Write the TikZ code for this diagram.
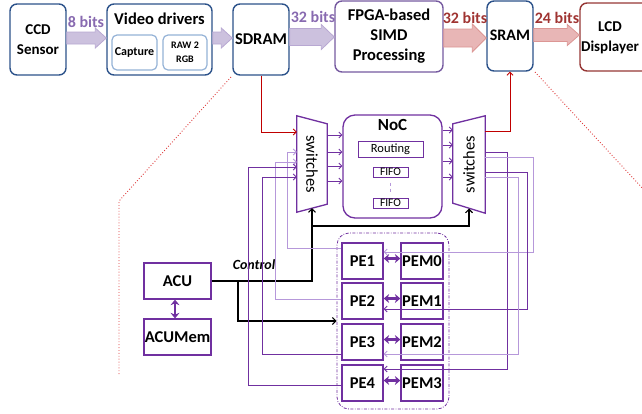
\documentclass[tikz,border=0pt]{standalone}
\usepackage{fontspec}
\setmainfont{Carlito}
\usetikzlibrary{arrows.meta,calc}
\definecolor{boxblue}{RGB}{44,82,138}
\definecolor{lightblue}{RGB}{149,179,215}
\definecolor{fpgapurple}{RGB}{118,90,160}
\definecolor{lcdred}{RGB}{150,55,53}
\definecolor{purpfill}{RGB}{204,193,222}
\definecolor{purpline}{RGB}{184,168,210}
\definecolor{purptext}{RGB}{136,106,176}
\definecolor{redfill}{RGB}{232,182,182}
\definecolor{redline}{RGB}{220,150,148}
\definecolor{redtext}{RGB}{160,52,50}
\definecolor{noc}{RGB}{112,48,160}
\definecolor{lightp}{RGB}{182,152,218}
\definecolor{redc}{RGB}{192,0,0}
\definecolor{reddot}{RGB}{222,60,60}
\newcommand\blockarr[6]{%
  \path[#1] let \p1=#2, \p2=#3 in
    (\x1,\y1+#4) -- (\x2-#6,\y1+#4) -- (\x2-#6,\y1+#5) -- (\x2,\y1)
    -- (\x2-#6,\y1-#5) -- (\x2-#6,\y1-#4) -- (\x1,\y1-#4) -- cycle;}
\tikzset{
  fbig/.style={font=\fontsize{15}{20}\selectfont\bfseries},
  topbox/.style={draw=boxblue, line width=1.4pt, rounded corners=7pt, fill=white, inner sep=0pt, align=center, fbig},
  innerbox/.style={draw=lightblue, line width=1.2pt, rounded corners=5pt, fill=white, inner sep=0pt, align=center},
  purparr/.style={fill=purpfill, draw=purpline, line width=0.8pt},
  redarr/.style={fill=redfill, draw=redline, line width=0.8pt},
  bitlab/.style={font=\fontsize{16}{18}\selectfont\bfseries},
  pbox/.style={draw=noc, line width=1.3pt, fill=white, inner sep=0pt, align=center, font=\fontsize{16.5}{18}\selectfont\bfseries},
  swshape/.style={draw=noc, line width=1.3pt, fill=white},
  wd/.style={draw=noc, line width=0.8pt},
  wl/.style={draw=lightp, line width=0.8pt},
  tip/.style={-{Straight Barb[length=3pt,width=6pt]}},
  ctrl/.style={draw=black, line width=1.1pt, -{Straight Barb[length=3.5pt,width=7pt]}},
  dbl/.style={draw=noc, line width=2.2pt, {Stealth[length=5.5pt,width=9pt]}-{Stealth[length=5.5pt,width=9pt]}},
  redconn/.style={draw=redc, line width=0.8pt},
  reddots/.style={draw=reddot, line width=0.9pt, dotted}
}
\begin{document}
\begin{tikzpicture}[x=1pt,y=-1pt]
\useasboundingbox (0,0) rectangle (642,413);
\clip (0,0) rectangle (642,413);

% ---- top row ----
\node[topbox, minimum width=56, minimum height=71] (ccd) at (38,39.5) {CCD\\Sensor};
\node[topbox, minimum width=105, minimum height=71] (vd) at (159.5,39.5) {};
\node[font=\fontsize{16.5}{18}\selectfont\bfseries] (vdt) at (159.5,18.5) {Video drivers};
\node[innerbox, minimum width=45, minimum height=35, font=\fontsize{12}{13}\selectfont\bfseries] (cap) at (134.5,52.5) {Capture};
\node[innerbox, minimum width=44, minimum height=35, font=\fontsize{10}{14}\selectfont\bfseries] (raw) at (185,52.5) {RAW 2\\RGB};
\node[topbox, minimum width=56, minimum height=71, font=\fontsize{16.5}{18}\selectfont\bfseries] (sdram) at (261,39.5) {SDRAM};
\node[topbox, draw=fpgapurple, minimum width=108, minimum height=71, font=\fontsize{16.5}{20}\selectfont\bfseries] (fpga) at (389,36.5) {FPGA-based\\SIMD\\Processing};
\node[topbox, minimum width=46, minimum height=70, font=\fontsize{16}{18}\selectfont\bfseries] (sram) at (510,36) {\raisebox{2pt}{SRAM}};
\node[topbox, draw=lcdred, minimum width=82, minimum height=68] (lcd) at (621,37) {};
\node[fbig, align=center] (lcdt) at (610,38) {LCD\\Displayer};

\blockarr{purparr}{(ccd.east |- 0,38)}{(vd.west |- 0,38)}{6}{10}{11}
\blockarr{purparr}{(vd.east |- 0,38)}{(sdram.west |- 0,38)}{6}{10}{11}
\blockarr{purparr}{(sdram.east |- 0,37)}{(fpga.west |- 0,37)}{8.5}{12.5}{13}
\blockarr{redarr}{(fpga.east |- 0,38)}{(sram.west |- 0,38)}{9}{14}{14}
\blockarr{redarr}{(sram.east |- 0,35)}{(lcd.west |- 0,35)}{6.5}{10.5}{12}

\node[bitlab, text=purptext] (b8) at (86,22) {8 bits};
\node[bitlab, text=purptext] (b32a) at (313,17) {32 bits};
\node[bitlab, text=redtext] (b32b) at (465,18) {32 bits};
\node[bitlab, text=redtext] (b24) at (557,18) {24 bits};

% ---- zoom lines ----
\coordinate (dl1) at (231,77);
\coordinate (dl2) at (119,201);
\coordinate (dl3) at (119,375);
\draw[reddots] (dl1) -- (dl2) -- (dl3);
\coordinate (dr1) at (535,72);
\coordinate (dr2) at (645,191);
\draw[reddots] (dr1) -- (dr2);

% ---- NoC ----
\node[minimum width=30, minimum height=96, inner sep=0pt] (lsw) at (312,164) {};
\draw[swshape] (lsw.north west) -- ($(lsw.north east)+(0,8)$) -- ($(lsw.south east)+(0,-8)$) -- (lsw.south west) -- cycle;
\node[rotate=-90, font=\fontsize{16.5}{17}\selectfont] (lswt) at (312,164) {switches};
\node[minimum width=32, minimum height=97, inner sep=0pt] (rsw) at (469,164.5) {};
\draw[swshape] ($(rsw.north west)+(0,8)$) -- (rsw.north east) -- (rsw.south east) -- ($(rsw.south west)+(0,-10)$) -- cycle;
\node[rotate=90, font=\fontsize{16.5}{17}\selectfont] (rswt) at (469,164.5) {switches};

\node[draw=noc, line width=1.3pt, rounded corners=12pt, minimum width=99, minimum height=103, inner sep=0pt] (noc) at (392.5,166.5) {};
\node[font=\fontsize{17}{18}\selectfont\bfseries] (noct) at (392.5,125) {NoC};
\node[draw=noc, line width=1pt, minimum width=65, minimum height=16, inner sep=0pt, font=\fontsize{12.5}{14}\selectfont] (rout) at (390.5,149) {Routing};
\node[draw=noc, line width=1pt, minimum width=35, minimum height=10, inner sep=0pt, font=\fontsize{11.5}{12}\selectfont] (fifo1) at (390.5,172) {FIFO};
\node[draw=noc, line width=1pt, minimum width=35, minimum height=10, inner sep=0pt, font=\fontsize{11.5}{12}\selectfont] (fifo2) at (390.5,203) {FIFO};
\draw[draw=lightp, line width=1pt, dash pattern=on 3pt off 3pt] ($(fifo1.south)+(0,5)$) -- ($(fifo2.north)+(0,-5)$);

\foreach \yy in {135,152,166,181} \draw[wd,tip] (lsw.east |- 0,\yy) -- (noc.west |- 0,\yy);
\foreach \yy in {130,145,161,177} \draw[wd,tip] (noc.east |- 0,\yy) -- (rsw.west |- 0,\yy);

% red connectors
\draw[redconn,tip] (sdram.south) |- (lsw.west |- 0,132);
\draw[redconn,tip] (rsw.east |- 0,131) -| (sram.south);

% ---- ACU ----
\node[pbox, minimum width=67, minimum height=36] (acu) at (177.5,281) {ACU};
\node[pbox, minimum width=67, minimum height=36] (acum) at (177.5,337) {ACUMem};
\draw[dbl] (acu.south -| 175,0) -- (acum.north -| 175,0);
\node[font=\fontsize{14}{15}\selectfont\bfseries\itshape] (ctl) at (254,265) {Control};

% ---- PE group ----
\node[draw=noc, line width=0.8pt, dash pattern=on 3pt off 1.5pt on 0.8pt off 1.5pt, rounded corners=12pt, minimum width=112, minimum height=176, inner sep=0pt] (peg) at (393,321) {};
\foreach \i/\yy/\m in {1/261/0,2/301/1,3/342/2,4/383/3}{
  \node[pbox, minimum width=41, minimum height=36] (pe\i) at (362.5,\yy) {PE\i};
  \node[pbox, minimum width=42, minimum height=36, fill=none] (pem\i) at (422,\yy) {PEM\m};
  \draw[dbl] ($(pe\i.east)+(0,-2.5)$) -- ($(pem\i.west)+(0,-2.5)$);
}

% control lines
\coordinate (lswb) at (312,208);
\coordinate (rswb) at (469,208.5);
\coordinate (cj) at (312,226);
\coordinate (cb) at (238,281);
\draw[ctrl] (acu.east) -| (lswb);
\draw[ctrl] (cj) -| (rswb);
\draw[ctrl] (cb) |- (peg.west);

% left wires: PE -> left switches
\draw[wl,tip] (pe1.west |- 0,248) -| (287,152) -- (lsw.west |- 0,152);
\draw[wl,tip] (pe2.west |- 0,299) -| (275,162) -- (lsw.west |- 0,162);
\draw[wd,tip] (pe3.west |- 0,354) -| (262,177) -- (lsw.west |- 0,177);
\draw[wd,tip] (pe4.west |- 0,385) -| (248,167) -- (lsw.west |- 0,167);

% right wires: right switches -> PE
\draw[wd,tip] (rsw.east |- 0,152) -| (507,369) -- (pe4.east |- 0,369);
\draw[wl,tip] (rsw.east |- 0,157) -| (533,252) -- (pe1.east |- 0,252);
\draw[wd,tip] (rsw.east |- 0,172) -| (527,309) -- (pe2.east |- 0,309);
\draw[wl,tip] (rsw.east |- 0,177) -| (518,354) -- (pe3.east |- 0,354);
\end{tikzpicture}
\end{document}
